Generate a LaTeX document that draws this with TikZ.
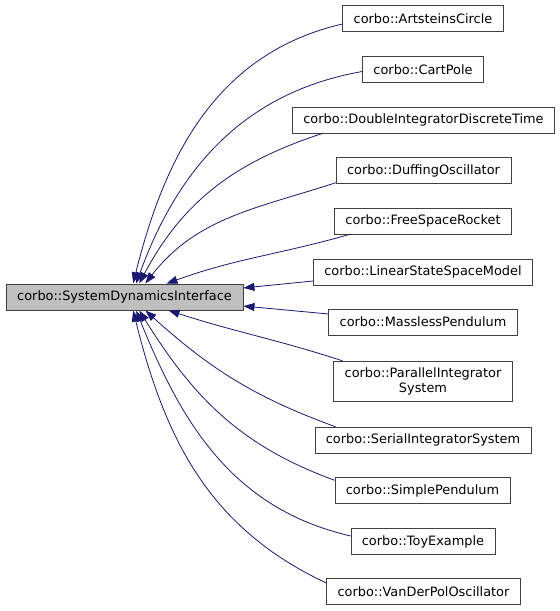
\documentclass[tikz,border=0pt]{standalone}
\usepackage{fontspec}
\setmainfont{DejaVu Sans}
\usepackage{tikz}
\usetikzlibrary{arrows.meta}
\definecolor{edgeblue}{HTML}{191970}
\definecolor{boxline}{HTML}{404040}
\tikzset{class box/.style={draw=boxline,rectangle,fill=white,inner xsep=11pt,inner ysep=2pt,minimum height=26pt,align=center,font=\fontsize{12.9}{15}\selectfont}}
\tikzset{base box/.style={class box,fill=black!25!white}}
\tikzset{inherit/.style={draw=edgeblue,line width=0.8pt,-{Triangle[length=11pt,width=8pt]},shorten >=0.5pt}}

\begin{document}
\begin{tikzpicture}[auto]

          \useasboundingbox (0,0) rectangle (560pt,611pt);

          %基底クラス
          \node[base box] (SDI) at (124.5pt, 314pt) {corbo::SystemDynamicsInterface};

          %派生クラス
          \node[class box] (AC) at (423pt, 592.5pt) {corbo::ArtsteinsCircle};
          \node[class box] (CP) at (423pt, 541.5pt) {corbo::CartPole};
          \node[class box] (DI) at (423.5pt, 491pt) {corbo::DoubleIntegratorDiscreteTime};
          \node[class box] (DO) at (423.5pt, 440.5pt) {corbo::DuffingOscillator};
          \node[class box] (FSR) at (423pt, 390pt) {corbo::FreeSpaceRocket};
          \node[class box] (LSSM) at (423pt, 339pt) {corbo::LinearStateSpaceModel};
          \node[class box] (MP) at (423pt, 289pt) {corbo::MasslessPendulum};
          \node[class box, minimum height=40pt] (PIS) at (423pt, 230pt) {corbo::ParallelIntegrator\\System};
          \node[class box] (SIS) at (423pt, 171pt) {corbo::SerialIntegratorSystem};
          \node[class box] (SP) at (422.5pt, 120.5pt) {corbo::SimplePendulum};
          \node[class box] (TE) at (423pt, 69.5pt) {corbo::ToyExample};
          \node[class box] (VDP) at (423.5pt, 19.5pt) {corbo::VanDerPolOscillator};

          %上の継承
          \draw[inherit] ([yshift=-5.5pt]AC.west) to[out=193, in=76] ([xshift=127pt]SDI.north west);
          \draw[inherit] ([yshift=-2pt]CP.west) to[out=190, in=70] ([xshift=130pt]SDI.north west);
          \draw[inherit] ([xshift=31pt]DI.south west) to[out=198, in=62] ([xshift=133pt]SDI.north west);
          \draw[inherit] ([yshift=1pt]DO.south west) to[out=198, in=52] ([xshift=139pt]SDI.north west);
          \draw[inherit] ([xshift=16pt]FSR.south west) to[out=196, in=20] ([xshift=160pt]SDI.north west);

          %横の継承
          \draw[inherit] ([yshift=-9pt]LSSM.west) -- ([yshift=9pt]SDI.east);
          \draw[inherit] ([yshift=8pt]MP.west) -- ([yshift=-9pt]SDI.east);

          %下の継承
          \draw[inherit] ([xshift=9pt]PIS.north west) to[out=162, in=-18] ([xshift=162pt]SDI.south west);
          \draw[inherit] ([xshift=21pt]SIS.north west) to[out=160, in=-42] ([xshift=139pt]SDI.south west);
          \draw[inherit] ([yshift=-3pt]SP.north west) to[out=160, in=-58] ([xshift=133pt]SDI.south west);
          \draw[inherit] ([yshift=5.5pt]TE.west) to[out=167, in=-68] ([xshift=130pt]SDI.south west);
          \draw[inherit] ([yshift=8.5pt]VDP.west) to[out=155, in=-76] ([xshift=127pt]SDI.south west);

        \end{tikzpicture}
\end{document}
